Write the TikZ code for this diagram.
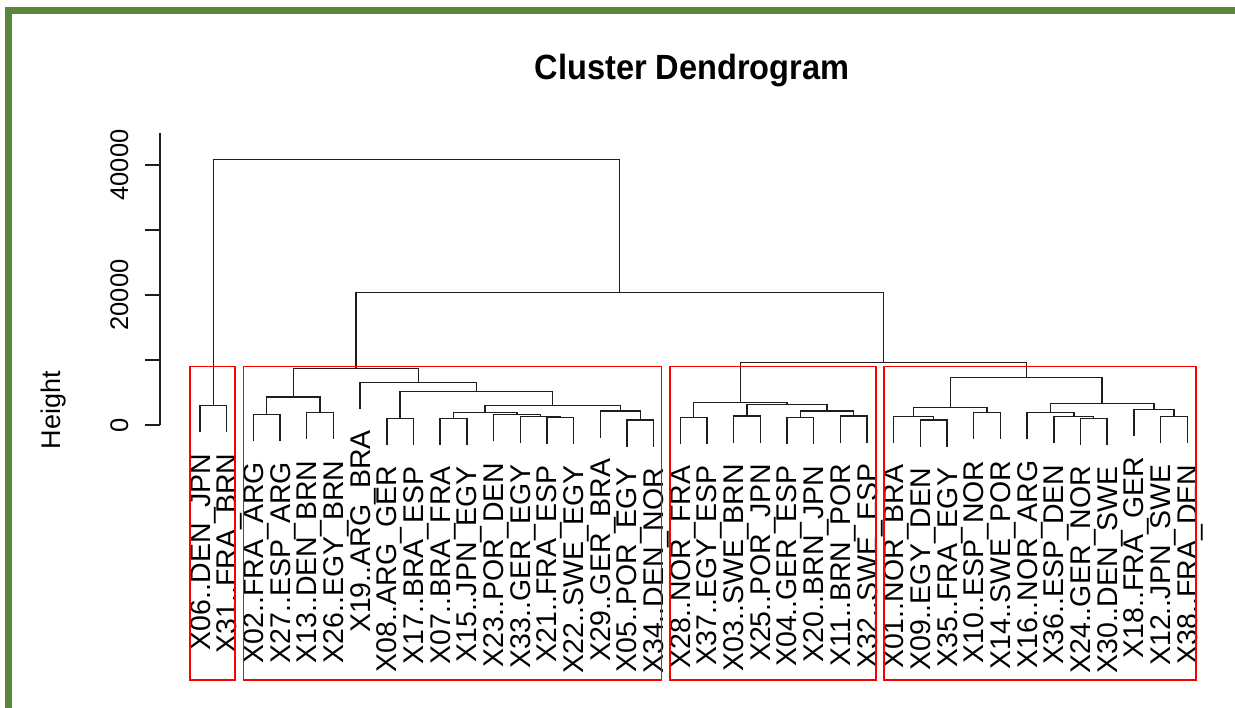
\documentclass[tikz,border=0pt]{standalone}
\usepackage{fontspec}
\setmainfont{Liberation Sans}
\definecolor{gborder}{RGB}{88,134,58}
\definecolor{treeline}{RGB}{30,30,30}
\begin{document}
\begin{tikzpicture}[x=1pt,y=-1pt,
  tree/.style={line width=1.4pt, draw=treeline},
  redbox/.style={draw=red, line width=1.5pt},
  axisline/.style={line width=1.3pt, draw=treeline},
  leaflab/.style={rotate=90, anchor=east, inner sep=0pt,
    font=\fontsize{28.5}{30}\selectfont, text height=20pt, text depth=0pt},
  axlab/.style={rotate=90, anchor=center, inner sep=0pt,
    font=\fontsize{25.5}{27}\selectfont, text height=18pt, text depth=0pt},
  frame/.style={fill=gborder, draw=none}]
\useasboundingbox (0,0) rectangle (1235,708);
\fill[white] (0,0) rectangle (1235,708);
% green frame
\fill[frame] (5,7) rectangle (1235,14);
\fill[frame] (5,7) rectangle (12,708);
% title
\node[font=\bfseries\fontsize{35}{38}\selectfont, inner sep=0pt] (title) at (692,71) {\scalebox{0.93}[1]{Cluster Dendrogram}};
% y axis
\coordinate (axtop) at (160,133);
\coordinate (axbot) at (160,425);
\draw[axisline] (axtop) -- (axbot);
\foreach \v/\y in {0/425,1/360,2/295,3/230,4/165} {
  \coordinate (tk\v) at (160,\y);
  \coordinate (te\v) at (145,\y);
  \draw[axisline] (tk\v) -- (te\v);
}
\node[axlab] (y0) at (119,425) {0};
\node[axlab] (y2) at (119,295) {20000};
\node[axlab] (y4) at (119,165) {40000};
\node[axlab, font=\fontsize{27}{29}\selectfont] (ylab) at (51,410) {Height};
% leaves
\foreach \i/\x/\y/\t in {
  0/200.0/432.4/X06..DEN\_JPN, 1/226.7/432.4/X31..FRA\_BRN,
  2/253.4/441.0/X02..FRA\_ARG, 3/280.0/441.0/X27..ESP\_ARG,
  4/306.7/439.4/X13..DEN\_BRN, 5/333.4/439.4/X26..EGY\_BRN,
  6/360.1/409.0/X19..ARG\_BRA, 7/386.8/445.0/X08..ARG\_GER,
  8/413.4/445.0/X17..BRA\_ESP, 9/440.1/445.0/X07..BRA\_FRA,
  10/466.8/445.0/X15..JPN\_EGY, 11/493.5/441.5/X23..POR\_DEN,
  12/520.2/443.0/X33..GER\_EGY, 13/546.8/444.4/X21..FRA\_ESP,
  14/573.5/444.4/X22..SWE\_EGY, 15/600.2/437.7/X29..GER\_BRA,
  16/626.9/446.7/X05..POR\_EGY, 17/653.6/446.7/X34..DEN\_NOR,
  18/680.2/444.4/X28..NOR\_FRA, 19/706.9/444.4/X37..EGY\_ESP,
  20/733.6/442.7/X03..SWE\_BRN, 21/760.3/442.7/X25..POR\_JPN,
  22/786.9/444.4/X04..GER\_ESP, 23/813.6/444.4/X20..BRN\_JPN,
  24/840.3/442.7/X11..BRN\_POR, 25/867.0/442.7/X32..SWE\_ESP,
  26/893.7/443.4/X01..NOR\_BRA, 27/920.4/446.7/X09..EGY\_DEN,
  28/947.0/446.7/X35..FRA\_EGY, 29/973.7/439.4/X10..ESP\_NOR,
  30/1000.4/439.4/X14..SWE\_POR, 31/1027.1/439.4/X16..NOR\_ARG,
  32/1053.8/443.4/X36..ESP\_DEN, 33/1080.4/445.0/X24..GER\_NOR,
  34/1107.1/445.0/X30..DEN\_SWE, 35/1133.8/436.0/X18..FRA\_GER,
  36/1160.5/443.4/X12..JPN\_SWE, 37/1187.2/443.4/X38..FRA\_DEN} {
  \coordinate (l\i) at (\x,\y);
  \node[leaflab] (t\i) at (\x,\y+21) {\t};
}
% merge points
\foreach \n/\x/\y in {
  m1/213.35/405.7, m2/266.7/414.3, m3/320.05/412.7, m4/293.4/397,
  m5/400.1/418.3, m6/453.45/418.3, m7/560.15/417.7, m8/540.2/416.3,
  m9/516.85/414.8, m10/485.15/412.7, m11/640.25/420, m12/620.2/411,
  m13/552.7/405.7, m14/476.4/391.7, m15/418.25/382.3, m16/355.8/368.3,
  m17/693.55/417.7, m18/746.95/416, m19/800.25/417.7, m20/853.65/416,
  m21/826.95/411, m22/786.95/404.3, m23/740.25/402.3,
  m24/933.7/420, m25/913.7/416.7, m26/987.05/412.7, m27/950.4/407.3,
  m28/1093.75/418.3, m29/1073.8/416.7, m30/1050.45/412.7,
  m31/1173.85/416.7, m32/1153.8/409.3, m33/1102.1/403.3,
  m34/1026.25/377.3, m35/883.25/362.5, m36/619.5/292.3, m37/416.4/159.3} {
  \coordinate (\n) at (\x,\y);
}
% connectors
\foreach \m/\a/\b in {
  m1/l0/l1, m2/l2/l3, m3/l4/l5, m4/m2/m3,
  m5/l7/l8, m6/l9/l10, m7/l13/l14, m8/l12/m7, m9/l11/m8, m10/m6/m9,
  m11/l16/l17, m12/l15/m11, m13/m10/m12, m14/m5/m13, m15/l6/m14, m16/m4/m15,
  m17/l18/l19, m18/l20/l21, m19/l22/l23, m20/l24/l25, m21/m19/m20,
  m22/m18/m21, m23/m17/m22,
  m24/l27/l28, m25/l26/m24, m26/l29/l30, m27/m25/m26,
  m28/l33/l34, m29/l32/m28, m30/l31/m29, m31/l36/l37, m32/l35/m31,
  m33/m30/m32, m34/m27/m33, m35/m23/m34, m36/m16/m35, m37/m1/m36} {
  \draw[tree] (\a) |- (\m) -| (\b);
}
% cluster boxes
\draw[redbox] (190,366.7) rectangle (235,680) coordinate (box1);
\draw[redbox] (243.5,366.7) rectangle (661.7,680) coordinate (box2);
\draw[redbox] (670,366.7) rectangle (876,680) coordinate (box3);
\draw[redbox] (884,366.7) rectangle (1196,680) coordinate (box4);
\end{tikzpicture}
\end{document}
